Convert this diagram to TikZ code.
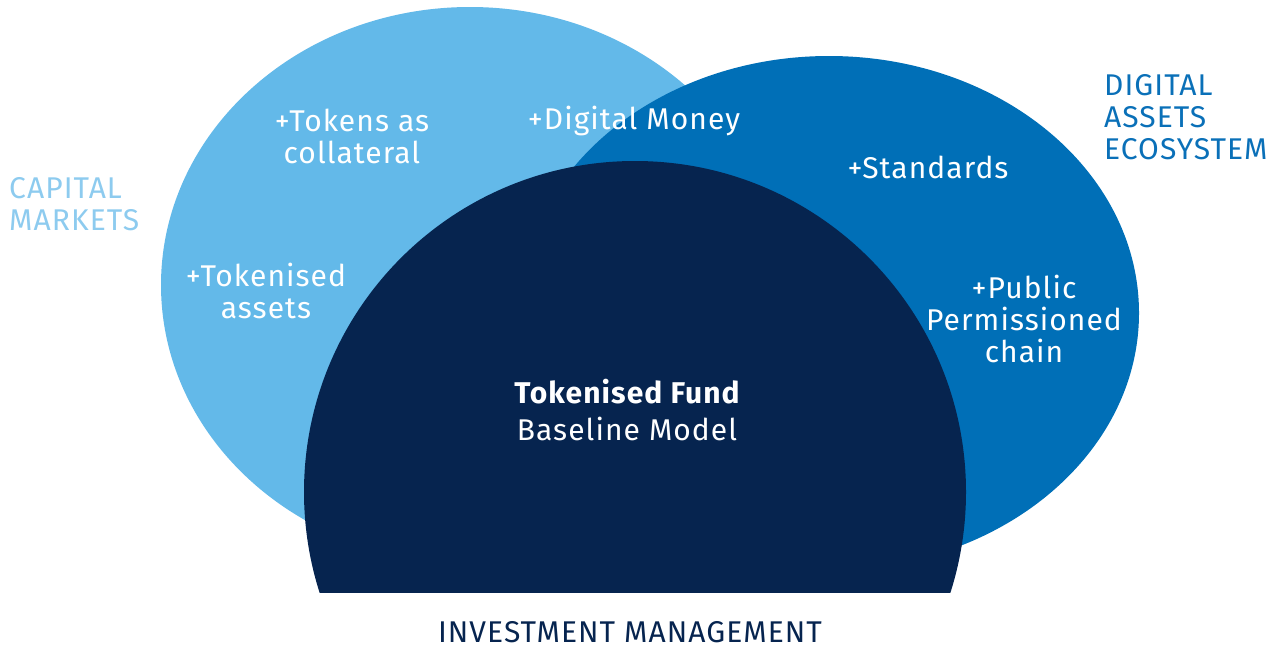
\documentclass[tikz,border=0pt]{standalone}
\usepackage{fontspec}
\setmainfont{Fira Sans}[LetterSpace=3.5]
\usetikzlibrary{positioning}
\definecolor{capblue}{HTML}{63B9E9}
\definecolor{digblue}{HTML}{006FB7}
\definecolor{invnavy}{HTML}{06244F}
\definecolor{captext}{HTML}{8DCBEF}
\definecolor{digtext}{HTML}{0A70B8}

\begin{document}
\begin{tikzpicture}
[x=1pt,y=-1pt,
 plus/.style={text=white,font=\fontsize{30}{32}\selectfont,align=center,anchor=base,inner sep=0pt},
 field/.style={font=\fontsize{30}{32}\selectfont,align=left,anchor=base west,inner sep=0pt}]
\useasboundingbox (0,0) rectangle (1279,648);
\fill[capblue] (470,285) ellipse [x radius=309,y radius=278];
\fill[digblue] (829,313) ellipse [x radius=310,y radius=257];
\begin{scope}
\clip (0,0) rectangle (1279,592);
\fill[invnavy] (635,492) circle [radius=331];
\end{scope}
% last line baselines
\node[field,text=captext] (cap) at (9,230) {CAPITAL\\MARKETS};
\node[field,text=digtext] (dig) at (1104,159) {DIGITAL\\ASSETS\\ECOSYSTEM};
\node[plus,text=invnavy,text depth=0pt] (inv) at (630,642) {INVESTMENT MANAGEMENT};
\node[plus] (collat) at (352,163) {+Tokens as\\collateral};
\node[plus] (money) at (634,129) {+Digital Money};
\node[plus] (assets) at (266,318) {+Tokenised\\assets};
\node[plus] (std) at (928,178) {+Standards};
\node[plus] (chain) at (1024,362) {+Public\\Permissioned\\chain};
\node[plus,font=\fontsize{30}{32}\selectfont\bfseries] (fund) at (627,403) {Tokenised Fund};
\node[plus] (model) at (627,440) {Baseline Model};
\end{tikzpicture}
\end{document}
